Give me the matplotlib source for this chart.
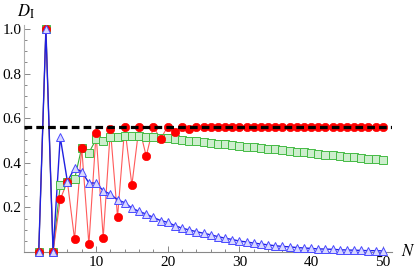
## D_I versus N, three sequences and the limit value
import numpy as np
import matplotlib.pyplot as plt
from matplotlib.ticker import MultipleLocator

## data
N = list(range(2, 51))
D_red = [0.0, 1.0, 0.0, 0.236, 0.316, 0.057, 0.468, 0.034, 0.532, 0.064,
         0.550, 0.157, 0.559, 0.300, 0.562, 0.430, 0.562, 0.507, 0.562, 0.540,
         0.562, 0.552, 0.562, 0.559, 0.562, 0.562, 0.562, 0.562, 0.562, 0.562,
         0.562, 0.562, 0.562, 0.562, 0.562, 0.562, 0.562, 0.562, 0.562, 0.562,
         0.562, 0.562, 0.562, 0.562, 0.562, 0.562, 0.562, 0.562, 0.562]
D_green = [0.0, 1.0, 0.0, 0.300, 0.316, 0.327, 0.468, 0.445, 0.505, 0.497,
           0.515, 0.514, 0.520, 0.519, 0.519, 0.517, 0.515, 0.512, 0.509, 0.506,
           0.503, 0.499, 0.496, 0.493, 0.489, 0.486, 0.483, 0.479, 0.476, 0.473,
           0.470, 0.466, 0.463, 0.460, 0.457, 0.453, 0.450, 0.447, 0.444, 0.441,
           0.437, 0.434, 0.431, 0.428, 0.425, 0.422, 0.419, 0.416, 0.413]
D_blue = [0.0, 1.0, 0.0, 0.515, 0.316, 0.376, 0.360, 0.310, 0.309, 0.275,
          0.259, 0.234, 0.221, 0.197, 0.182, 0.170, 0.155, 0.141, 0.133, 0.118,
          0.107, 0.099, 0.091, 0.084, 0.077, 0.069, 0.062, 0.056, 0.049, 0.045,
          0.040, 0.036, 0.032, 0.028, 0.025, 0.023, 0.020, 0.018, 0.016, 0.014,
          0.013, 0.012, 0.010, 0.009, 0.008, 0.007, 0.006, 0.006, 0.005]
D_lim = 0.562

plt.rcParams['font.family'] = ['Liberation Serif', 'DejaVu Serif']
plt.rcParams['mathtext.fontset'] = 'stix'

W, H = 415, 274
fig = plt.figure(figsize=(W/100, H/100), dpi=100)
ax = fig.add_axes([24.4/W, 22/H, (392-24.4)/W, (252-24.5)/H])
ax.set_xlim(0, 51.3)
ax.set_ylim(0, 1.02)

## lines
ax.plot(N, D_green, '-', color='#33b033', lw=0.8, zorder=2, clip_on=False)
ax.plot(N, D_red, '-', color='#ff5a5a', lw=0.8, zorder=2, clip_on=False)
ax.plot(N, D_blue, '-', color='#2020e0', lw=1.0, zorder=2, clip_on=False)

## markers
ax.plot(N, D_green, 's', ms=5.3, mfc='#cdeecd', mec='#44bb44', mew=0.7,
        ls='none', zorder=3, clip_on=False)
ax.plot(N, D_red, 'o', ms=6.0, mfc='#ff0000', mec='#ff0000', mew=0.5,
        ls='none', zorder=4, clip_on=False)
ax.plot(N, D_blue, '^', ms=5.2, mfc='#d8d8ff', mec='#4a4aff', mew=0.7,
        ls='none', zorder=5, clip_on=False)

## limit value
ax.axhline(D_lim, color='black', lw=2.3, dashes=(2.4, 1.3), zorder=6)

## axes in Mathematica style
for s in ['top', 'right']:
    ax.spines[s].set_visible(False)
ax.spines['bottom'].set_color('#888888')
ax.spines['left'].set_color('#b0b0b0')
ax.spines['bottom'].set_linewidth(0.8)
ax.spines['left'].set_linewidth(0.8)

ax.xaxis.set_minor_locator(MultipleLocator(2))
ax.yaxis.set_minor_locator(MultipleLocator(0.05))
ax.set_xticks([10, 20, 30, 40, 50])
ax.set_xticklabels(['10', '20', '30', '40', '50'])
ax.set_yticks([0.2, 0.4, 0.6, 0.8, 1.0])
ax.set_yticklabels(['0.2', '0.4', '0.6', '0.8', '1.0'])
ax.tick_params(which='both', direction='in', color='#888888', width=0.7,
               labelsize=11)
ax.tick_params(which='major', length=4.0)
ax.tick_params(which='minor', length=2.3)
ax.tick_params(axis='x', pad=3)
ax.tick_params(axis='y', pad=2)

## axis labels
fig.text(17/W, 1 - 12/H, r'$D_\mathrm{I}$', fontsize=12, ha='left', va='center')
fig.text(401/W, 1 - 252/H, r'$N$', fontsize=12, ha='left', va='center')

fig.savefig('out.png', dpi=100)
